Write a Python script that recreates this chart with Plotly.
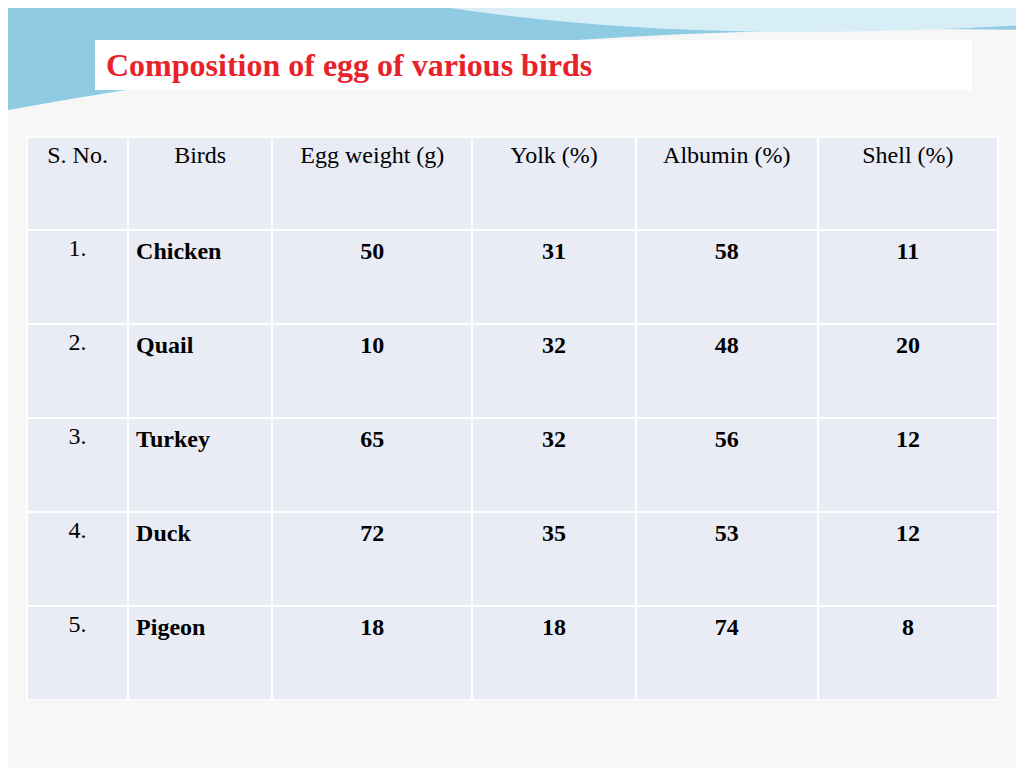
import plotly.graph_objects as go

headers = ["S. No.", "Birds", "Egg weight (g)", "Yolk (%)", "Albumin (%)", "Shell (%)"]
sno = ["1.", "2.", "3.", "4.", "5."]
birds = ["Chicken", "Quail", "Turkey", "Duck", "Pigeon"]
egg_weight = [50, 10, 65, 72, 18]
yolk = [31, 32, 32, 35, 18]
albumin = [58, 48, 56, 53, 74]
shell = [11, 20, 12, 12, 8]

OFF = 8
W, H = 1024 - OFF, 768 - OFF
def px(x): return (x - OFF) / W
def py(y): return 1 - (y - OFF) / H

col_w = [101, 144, 200, 163, 182, 180]
bold = lambda vals: ["<b>%s</b>" % v for v in vals]

fig = go.Figure(go.Table(
    domain=dict(x=[px(27), px(998)], y=[py(700), py(137)]),
    columnwidth=col_w,
    header=dict(values=headers, height=93, fill_color="#e9ecf5",
                line=dict(color="white", width=2), align="center",
                font=dict(family="Liberation Serif", size=24, color="black")),
    cells=dict(values=[sno, bold(birds), bold(egg_weight), bold(yolk), bold(albumin), bold(shell)],
               height=94, fill_color="#e9ecf5",
               line=dict(color="white", width=2),
               align=["center", "left", "center", "center", "center", "center"],
               font=dict(family="Liberation Serif", size=24, color="black")),
))

shapes = [
    dict(type="path", xref="paper", yref="paper",
         path=f"M 0 1 L 1 1 L 1 {py(30)} Q {px(500)} {py(20)} 0 {py(110)} Z",
         fillcolor="#8fcbe3", line=dict(width=0), layer="below"),
    dict(type="path", xref="paper", yref="paper",
         path=f"M {px(450)} 1 L 1 1 L 1 {py(25)} Q {px(700)} {py(45)} {px(450)} 1 Z",
         fillcolor="#d8eef7", line=dict(width=0), layer="below"),
    dict(type="rect", xref="paper", yref="paper", x0=px(95), x1=px(972), y0=py(90), y1=py(40),
         fillcolor="white", line=dict(width=0), layer="below"),
]

fig.update_layout(
    width=W, height=H, margin=dict(l=0, r=0, t=0, b=0),
    paper_bgcolor="#f7f7f7", plot_bgcolor="#f7f7f7",
    shapes=shapes,
    annotations=[dict(text="<b>Composition of egg of various birds</b>", xref="paper", yref="paper",
                      x=px(104), y=py(65), xanchor="left", yanchor="middle", showarrow=False,
                      font=dict(family="Liberation Serif", size=32, color="#e8222a"))],
)
fig.write_html("out.html")
